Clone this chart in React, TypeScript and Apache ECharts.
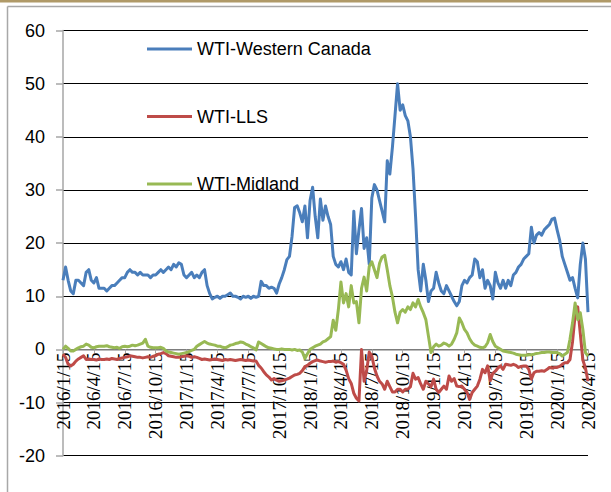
import React, { useEffect, useRef } from 'react';
import * as echarts from 'echarts';

// Quarterly tick labels on the category axis
const tickLabels = [
  '2016/1/15', '2016/4/15', '2016/7/15', '2016/10/15',
  '2017/1/15', '2017/4/15', '2017/7/15', '2017/10/15',
  '2018/1/15', '2018/4/15', '2018/7/15', '2018/10/15',
  '2019/1/15', '2019/4/15', '2019/7/15', '2019/10/15',
  '2020/1/15', '2020/4/15',
];

// Series names
const seriesNames = ['WTI-Western Canada', 'WTI-LLS', 'WTI-Midland'];

// Roughly weekly readings (4 per month, starting 2016/1/15, ending 2020/4/15)
const wtiWesternCanada = [
  13, 15.5, 13, 11, 10.5, 13, 13, 12.5, 12, 14.5, 15, 13,
  12.5, 13.5, 11.5, 11.5, 11.5, 11, 11.5, 12, 12, 12.5, 13, 13.5,
  13.5, 14.5, 15, 14.5, 14.5, 14, 14.5, 14, 14, 14, 13.5, 14,
  14, 14.5, 15, 14.5, 15, 15.5, 15, 16, 15.5, 16.3, 16, 14,
  13.5, 14, 14.5, 13.5, 14, 13.5, 14.5, 15, 12, 10.5, 9.5, 9.8,
  10, 9.6, 10, 10, 10.3, 10.6, 10, 10, 9.8, 9.5, 10, 9.8,
  10, 9.6, 10, 9.8, 10, 12.8, 12, 12, 11.5, 11.7, 11.5, 10.6,
  12.3, 13.5, 15, 16.9, 17.5, 21.3, 26.7, 27, 25.7, 24, 27, 21,
  28, 30.5, 25, 21, 28.3, 24.3, 27, 25, 23.5, 17.5, 16, 15.5,
  16.5, 15, 17, 14.5, 14, 26, 18, 22.5, 26.5, 19, 21, 16,
  28.5, 31, 30, 28, 26, 24, 35.5, 33, 38, 44, 50, 45,
  46, 44, 43, 40, 34, 25, 15, 11, 16, 13, 9, 11,
  11.5, 14.5, 12.5, 11, 10.5, 12, 11, 10, 9, 8.2, 9, 12,
  13, 12.5, 13.5, 14, 17, 16.5, 13.5, 15, 11.5, 13, 12, 9.5,
  14.5, 12.5, 11.5, 13, 11.5, 13, 12, 14, 14.5, 15.5, 16, 17,
  17.5, 18, 23, 20, 21.5, 22, 21.5, 22.5, 23, 23.5, 24.5, 24.7,
  22.5, 20.5, 17.5, 16, 14.5, 13, 13.5, 11.5, 9.7, 16, 20, 17,
  7,
];

const wtiLLS = [
  -0.9, -1.5, -2.8, -3.1, -2.8, -2.2, -1.8, -1.5, -1.2, -1.9, -1.8, -1.9,
  -1.9, -2, -1.8, -1.9, -1.9, -1.8, -1.9, -1.7, -1.8, -1.9, -1.7, -1.6,
  -1.5, -1.4, -1.2, -1.3, -1.4, -1.5, -1.5, -1.6, -1.5, -1.4, -1.5, -1.3,
  -1.2, -0.9, -0.8, -0.6, -0.8, -1.2, -1.3, -1.4, -1.5, -1.5, -1.4, -1.3,
  -1.2, -1.3, -1.5, -1.4, -1.5, -1.7, -1.9, -1.8, -1.9, -2, -1.9, -1.8,
  -1.9, -2, -2.1, -1.9, -2, -1.9, -2, -2.1, -2, -1.9, -2, -2.1,
  -2, -2.1, -2.2, -2.2, -3, -3.5, -4.2, -4.8, -5.2, -5.75, -5.5, -5.8,
  -6, -5.9, -5.75, -5.6, -5.4, -5.1, -4.8, -4.7, -4.5, -4, -3.25, -3,
  -2.6, -2.3, -2.1, -2, -2.2, -2.3, -2.4, -2.3, -2.3, -2.2, -2.4, -2.3,
  -2.5, -2.8, -3.9, -5.5, -6.4, -8.25, -9.2, -9.7, 0, -6, -4, -0.5,
  -1.25, -3.5, -5, -6, -6.5, -7.5, -6, -7, -8, -8, -7.5, -7.5,
  -8, -7.5, -7.5, -7, -4.5, -5.6, -5.3, -6.5, -7.5, -6, -6.5, -7,
  -5.6, -7.5, -8.1, -7.5, -6.9, -7.5, -5, -6, -5.5, -6.9, -7, -6.9,
  -7.5, -8.1, -9.4, -8.1, -7.5, -6.9, -5.6, -3.75, -4.4, -3.1, -5.9, -4.5,
  -4.1, -3.5, -3.1, -3.75, -2.8, -2.9, -3, -2.8, -3, -3.4, -3.2, -3.1,
  -3.1, -3.75, -5.6, -4.4, -4.1, -4.1, -4, -4.1, -3.8, -3.4, -3.5, -3.4,
  -3.4, -3.2, -2.8, -2.5, -2.5, -1.9, 1.5, 6.5, 8, 3, -2, -3.5,
  -6,
];

const wtiMidland = [
  0, 0.6, 0.2, -0.3, -0.3, 0, 0.3, 0.5, 0.6, 1, 0.8, 0.4,
  0.3, 0.5, 0.6, 0.6, 0.6, 0.7, 0.5, 0.4, 0.3, 0.4, 0.2, 0.5,
  0.6, 0.5, 0.6, 0.8, 0.7, 0.8, 1, 1.2, 1.9, 0.6, 0.4, 0.3,
  0.3, 0.3, 0.4, 0.2, -0.3, -0.5, -0.6, -0.7, -0.8, -0.9, -0.8, -0.7,
  -0.6, -0.4, -0.2, 0, 0.6, 0.9, 1.2, 1.5, 1.2, 1, 0.9, 0.8,
  0.6, 0.6, 0.4, 0.3, 0.5, 0.8, 0.9, 1.1, 1.2, 1.4, 1.3, 1,
  0.8, 0.5, 0.3, -0.1, 1.4, 1.1, 0.8, 0.5, 0.3, 0.2, 0.1, 0,
  0, 0.1, 0, 0, 0, -0.1, 0, -0.2, -0.1, -0.5, -1.7, -0.8,
  0, 0.3, 0.6, 0.8, 1, 1.4, 1.6, 2, 2.4, 5.5, 3.6, 7.5,
  12.7, 8.75, 10.5, 8, 12, 8.75, 9, 5, 11.5, 13.6, 11, 15.6,
  16.5, 15, 13.5, 16.2, 17.4, 17.7, 15, 12, 9.9, 7, 5, 7,
  7.5, 7, 8, 7.5, 8.75, 8, 9.4, 8, 6.9, 5.6, 2.5, -0.6,
  0.5, 1, 0.6, 0.8, 1.2, 1, 0.6, 1, 1.9, 3.1, 5.9, 5,
  3.75, 3.1, 2, 1.25, 0.8, 0.6, 0.4, 0.3, 0.5, 1.25, 2.8, 1.5,
  0.6, 0.3, 0, -0.3, -0.4, -0.5, -0.6, -0.7, -0.9, -1, -1.1, -1.1,
  -1.1, -1, -1, -0.9, -0.75, -0.7, -0.6, -0.6, -0.5, -0.5, -0.6, -0.6,
  -0.6, -0.8, -1.25, -0.9, -0.6, 1.9, 5, 8.75, 5.6, 6.9, 3.75, -0.6,
  -1.25,
];

const Y_MIN = -20;
const Y_MAX = 60;
const STEPS_PER_TICK = 12;
const categories: string[] = wtiWesternCanada.map((_, i) => {
  const q = Math.floor(i / STEPS_PER_TICK);
  const r = i % STEPS_PER_TICK;
  return r === 0 ? tickLabels[q] : `${tickLabels[q]}+${r}`;
});

const W = 611;
const H = 492;
const GRID = { left: 63, right: 23, top: 30.5, bottom: 36.3 };

export default function App() {
  const ref = useRef<HTMLDivElement>(null);

  useEffect(() => {
    document.body.style.margin = '0';
    if (!ref.current) return;
    const chart = echarts.init(ref.current, undefined, { renderer: 'svg' });
    const gridH = H - GRID.top - GRID.bottom;
    // shift the category axis up to the zero line
    const zeroOffset = -gridH * ((0 - Y_MIN) / (Y_MAX - Y_MIN));
    const lineSeries = (name: string, data: number[], color: string) => ({
      name,
      type: 'line',
      data,
      showSymbol: false,
      symbol: 'none',
      lineStyle: { color, width: 3, join: 'round' },
      itemStyle: { color },
    });
    chart.setOption({
      animation: false,
      backgroundColor: '#ffffff',
      grid: { ...GRID, containLabel: false, outerBoundsMode: 'none' },
      legend: {
        orient: 'vertical',
        left: 147,
        top: 40,
        padding: 0,
        itemGap: 49.5,
        itemWidth: 45,
        itemHeight: 3,
        icon: 'rect',
        textStyle: { fontFamily: 'Liberation Sans', fontSize: 18, color: '#000' },
        data: seriesNames,
      },
      xAxis: {
        type: 'category',
        data: categories,
        boundaryGap: false,
        position: 'bottom',
        offset: zeroOffset,
        axisLine: { onZero: false, lineStyle: { color: '#a6a6a6', width: 1.5 } },
        axisTick: { show: true, interval: STEPS_PER_TICK - 1, length: 4, lineStyle: { color: '#a6a6a6' } },
        axisLabel: {
          interval: STEPS_PER_TICK - 1,
          rotate: 90,
          margin: 3,
          fontFamily: 'Liberation Serif',
          fontSize: 19,
          color: '#000',
        },
        splitLine: { show: false },
      },
      yAxis: {
        type: 'value',
        min: Y_MIN,
        max: Y_MAX,
        interval: 10,
        axisLine: { show: true, lineStyle: { color: '#a6a6a6', width: 1.5 } },
        axisTick: { show: true, length: 7, lineStyle: { color: '#a6a6a6', width: 1.5 } },
        axisLabel: { margin: 18, fontFamily: 'Liberation Sans', fontSize: 18, color: '#000' },
        splitLine: { lineStyle: { color: '#000', width: 1 } },
      },
      graphic: [
        { type: 'rect', silent: true, shape: { x: 0, y: 0, width: W, height: 2.5 }, style: { fill: '#b09a68' } },
        { type: 'line', silent: true, shape: { x1: 7.5, y1: 6.5, x2: W, y2: 6.5 }, style: { stroke: '#a8a8a8', lineWidth: 1.5 } },
        { type: 'line', silent: true, shape: { x1: 7.5, y1: 6.5, x2: 7.5, y2: H }, style: { stroke: '#a8a8a8', lineWidth: 1.5 } },
      ],
      series: [
        lineSeries(seriesNames[0], wtiWesternCanada, '#4a7ebb'),
        lineSeries(seriesNames[1], wtiLLS, '#be4b48'),
        lineSeries(seriesNames[2], wtiMidland, '#98b954'),
      ],
    });
    return () => chart.dispose();
  }, []);

  return <div ref={ref} style={{ width: W, height: H }} />;
}
